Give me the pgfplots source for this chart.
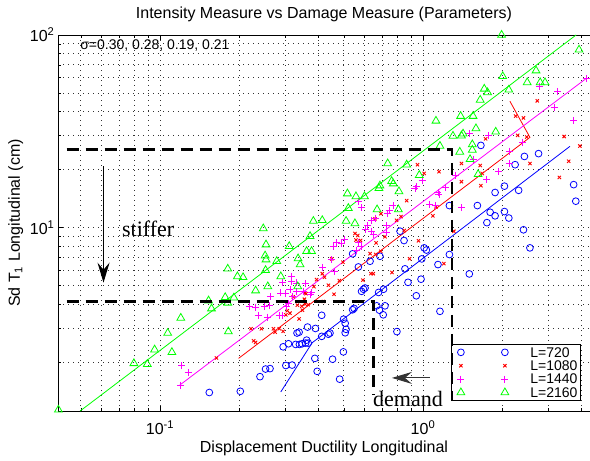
\documentclass[border=0pt]{standalone}
\usepackage{pgfplots}
\pgfplotsset{compat=1.18}
\usepackage{pgfplotstable}
\usepackage{fontspec}
\setmainfont{Liberation Sans}
\newfontfamily\serifface{Liberation Serif}
\usetikzlibrary{arrows.meta}

\definecolor{mblue}{RGB}{0,0,255}
\definecolor{mred}{RGB}{255,0,0}
\definecolor{mmag}{RGB}{255,0,255}
\definecolor{mgreen}{RGB}{0,255,0}

% legend sample: the marker drawn twice, no connecting line
\pgfplotsset{
  twomarks/.style={legend image code/.code={%
    \path (-7pt,0pt) (68pt,0pt);
    \draw[##1,only marks] plot coordinates {(0pt,0pt) (44pt,0pt)};}},
}

% L = 720
\pgfplotstableread{
x y
0.154 1.39
0.202 1.41
0.240 1.68
0.252 1.84
0.262 1.85
0.301 1.92
0.318 1.93
0.294 2.40
0.308 2.49
0.328 2.47
0.339 2.47
0.347 2.49
0.358 2.51
0.366 2.51
0.361 2.60
0.332 2.83
0.338 2.86
0.364 3.04
0.390 2.99
0.412 3.50
0.412 2.72
0.388 2.09
0.396 1.79
0.443 2.83
0.437 2.79
0.453 2.07
0.482 1.63
0.498 2.26
0.499 3.34
0.506 3.18
0.510 2.96
0.506 2.84
0.540 3.74
0.547 3.80
0.584 4.66
0.594 4.78
0.602 4.85
0.540 7.30
0.568 6.24
0.629 6.68
0.686 7.09
0.667 3.92
0.683 3.72
0.706 3.52
0.717 3.92
0.678 4.60
0.708 4.78
0.796 2.88
0.818 9.57
0.847 8.56
0.854 6.10
0.877 5.19
0.943 4.42
0.983 5.39
0.989 6.87
1.01 7.84
1.03 7.64
1.14 6.42
1.16 3.67
1.26 7.24
1.26 13.0
1.50 5.74
1.61 13.0
1.66 26.7
1.75 10.6
1.80 12.0
1.88 11.5
1.88 15.2
2.04 16.4
2.04 12.1
2.12 11.2
2.24 21.2
2.31 15.6
2.43 23.4
2.75 24.2
2.41 9.73
2.55 7.84
3.74 16.7
3.81 13.7
}\dataA

% L = 1080
\pgfplotstableread{
x y
0.164 2.10
0.222 2.98
0.243 2.98
0.270 2.98
0.284 2.98
0.294 2.89
0.274 2.86
0.227 2.58
0.231 2.53
0.305 3.70
0.301 3.52
0.312 3.59
0.338 3.35
0.333 3.95
0.346 3.90
0.356 4.00
0.354 4.24
0.366 3.97
0.348 3.72
0.321 4.37
0.359 4.53
0.418 4.13
0.459 4.50
0.356 4.57
0.385 4.93
0.394 5.36
0.414 5.76
0.422 5.52
0.437 5.01
0.481 5.30
0.450 6.87
0.496 6.60
0.551 9.31
0.565 9.09
0.579 8.56
0.556 8.61
0.591 5.33
0.634 5.76
0.647 5.76
0.629 7.32
0.661 7.24
0.691 7.53
0.663 8.32
0.717 8.95
0.762 5.84
0.692 11.8
0.657 11.1
0.794 10.9
0.825 11.4
0.867 13.8
0.889 6.88
0.849 9.65
0.961 8.53
1.09 11.5
1.12 12.8
0.953 21.2
1.01 19.1
1.15 19.5
1.31 9.56
1.20 6.49
1.40 21.5
1.40 17.3
1.65 21.0
1.68 19.1
1.66 16.5
1.73 28.9
2.25 37.9
2.41 37.1
2.72 45.5
2.29 30.1
2.48 29.5
2.55 21.5
3.44 29.7
3.58 22.1
3.30 18.2
3.95 26.5
}\dataB

% L = 1440
\pgfplotstableread{
x y
0.120 1.52
0.121 1.91
0.128 1.76
0.219 3.90
0.231 3.86
0.249 3.88
0.260 3.92
0.236 3.50
0.257 3.42
0.284 3.48
0.291 3.48
0.303 3.91
0.308 4.02
0.264 4.39
0.288 4.57
0.299 4.53
0.320 4.39
0.312 4.75
0.293 5.21
0.315 5.57
0.329 5.15
0.316 5.23
0.351 4.63
0.372 4.50
0.356 5.11
0.377 4.60
0.331 4.64
0.416 6.17
0.450 6.81
0.460 5.92
0.456 7.99
0.470 8.32
0.491 8.25
0.501 8.66
0.560 7.62
0.581 7.99
0.568 8.35
0.638 9.56
0.647 9.25
0.728 9.42
0.602 9.76
0.614 10.2
0.585 12.7
0.568 13.7
0.638 10.9
0.657 11.2
0.728 10.2
0.732 11.8
0.745 12.2
0.769 13.0
0.932 15.9
0.946 16.3
0.997 17.5
1.06 13.2
1.12 13.0
1.14 15.2
1.15 14.8
1.22 16.1
1.33 18.7
1.40 12.7
1.55 22.6
1.50 30.8
1.75 17.8
1.78 29.9
1.94 19.6
2.13 21.4
2.14 24.9
2.39 27.8
2.77 54.3
3.25 50.7
3.15 42.2
3.73 36.0
4.19 59.5
}\dataC

% L = 2160
\pgfplotstableread{
x y
0.0411 1.13
0.0796 1.97
0.0895 1.95
0.0954 2.32
0.111 2.25
0.107 2.83
0.120 3.39
0.153 4.17
0.157 3.79
0.177 4.34
0.181 4.06
0.191 4.32
0.182 2.88
0.181 6.10
0.197 5.57
0.207 5.51
0.231 4.70
0.247 9.88
0.253 8.15
0.251 7.14
0.253 6.81
0.252 6.00
0.278 6.68
0.257 4.94
0.288 5.57
0.310 7.99
0.335 6.90
0.334 4.94
0.372 9.01
0.361 7.53
0.377 7.53
0.341 6.42
0.383 10.8
0.414 10.9
0.510 10.8
0.551 10.5
0.516 15.0
0.556 14.5
0.599 14.5
0.520 12.6
0.669 12.4
0.686 16.5
0.680 16.0
0.760 17.4
0.771 16.9
0.810 15.4
0.806 12.4
0.734 21.5
0.867 21.2
0.968 18.7
1.12 35.8
1.16 26.5
1.30 29.9
1.40 30.0
1.42 30.7
1.38 24.7
1.39 37.9
1.55 37.9
1.59 32.7
1.54 27.0
1.54 25.3
1.51 22.6
1.62 18.9
1.89 31.4
1.65 46.0
1.71 52.5
1.76 50.3
2.12 51.9
2.01 61.0
1.99 100
2.49 56.7
2.69 65.3
2.79 56.7
2.91 56.7
3.92 83.8
}\dataD

\begin{document}
\begin{tikzpicture}
\begin{axis}[
  set layers,
  width=532pt, height=376pt, scale only axis,
  xmode=log, ymode=log,
  xmin=0.04095, xmax=4.315, ymin=1.114, ymax=100,
  axis y line*=left,
  clip=false,
  xtick={0.1,1},
  xticklabels={10\textsuperscript{-1},10\textsuperscript{0}},
  ytick={10,100},
  yticklabels={10\textsuperscript{1},10\textsuperscript{2}},
  minor xtick={0.05,0.06,0.07,0.08,0.09,0.2,0.3,0.4,0.5,0.6,0.7,0.8,0.9,2,3,4},
  minor ytick={2,3,4,5,6,7,8,9,20,30,40,50,60,70,80,90},
  grid=both,
  major grid style={black!80, line width=0.7pt, dash pattern=on 0.7pt off 4.3pt},
  minor grid style={black!80, line width=0.7pt, dash pattern=on 0.7pt off 4.3pt},
  tick style={black, line width=0.6pt},
  major tick length=5pt, minor tick length=3pt,
  axis line style={line width=0.9pt},
  tick label style={font=\fontsize{16}{19}\selectfont},
  xticklabel style={yshift=-6pt},
  label style={font=\fontsize{16}{19}\selectfont},
  xlabel style={yshift=1pt},
  title style={font=\fontsize{16}{19}\selectfont, yshift=4pt},
  title={Intensity Measure vs Damage Measure (Parameters)},
  xlabel={Displacement Ductility Longitudinal},
  ylabel={Sd T\textsubscript{1} Longitudinal (cm)},
  legend style={at={(0.983,0.027)}, anchor=south east,
    draw=black, line width=1pt, fill=white,
    font=\fontsize{14}{12}\selectfont,
    inner xsep=2pt, inner ysep=2pt, row sep=1.6pt,
    nodes={inner sep=1pt, text depth=0pt}},
  legend cell align=left,
]
\addplot[only marks, mark=o, mark size=3.4pt, mblue, line width=0.8pt, twomarks]
  table {\dataA};
\addlegendentry{L=720}
\addplot[only marks, mark=x, mark size=2.3pt, mred, line width=0.9pt, twomarks]
  table {\dataB};
\addlegendentry{L=1080}
\addplot[only marks, mark=+, mark size=3.5pt, mmag, line width=0.9pt, twomarks,
  mark options={draw=mmag}]
  table {\dataC};
\addlegendentry{L=1440}
\addplot[only marks, mark=triangle, mark size=4.5pt, mgreen, line width=0.8pt, twomarks]
  table {\dataD};
\addlegendentry{L=2160}

% fitted trends
\addplot[forget plot, mblue, line width=0.8pt] coordinates {(0.288,1.40) (0.379,2.52) (3.62,26.4)};
\addplot[forget plot, mred, line width=0.8pt] coordinates {(0.199,2.09) (2.55,29.4) (2.14,45.3)};
\addplot[forget plot, mmag, line width=0.8pt] coordinates {(0.119,1.52) (4.19,59.7)};
\addplot[forget plot, mgreen, line width=0.8pt] coordinates {(0.0497,1.114) (3.82,100)};

% capacity / demand levels
\addplot[forget plot, on layer=axis foreground, black, line width=2.8pt, dash pattern=on 12pt off 7pt]
  coordinates {(0.0442,25.5) (1.29,25.5) (1.29,1.27)};
\addplot[forget plot, on layer=axis foreground, black, line width=2.8pt, dash pattern=on 12pt off 7pt]
  coordinates {(0.0442,4.12) (0.647,4.12) (0.647,1.35)};

\draw[-{Stealth[length=20pt,width=12pt,inset=7pt]}, line width=1.1pt, black]
  (axis cs:0.0610,20.8) -- (axis cs:0.0610,5.17);
\node[anchor=base west, inner sep=0pt, font=\serifface\fontsize{22}{26}\selectfont]
  at (axis cs:0.0717,8.98) {stiffer};
\draw[-{Stealth[length=20pt,width=12pt,inset=7pt]}, line width=1.1pt, black!80]
  (axis cs:1.063,1.655) -- (axis cs:0.762,1.655);
\node[anchor=base west, inner sep=0pt, font=\serifface\fontsize{22}{26}\selectfont]
  at (axis cs:0.6455,1.169) {demand};
\node[anchor=base west, inner sep=0pt, font=\fontsize{14}{16}\selectfont]
  at (axis cs:0.0497,83.6) {σ=0.30, 0.28, 0.19, 0.21};
\end{axis}
\pgfresetboundingbox
\useasboundingbox ([xshift=-58pt,yshift=-49pt]current axis.south west)
  rectangle ([yshift=35pt]current axis.north east);
\end{tikzpicture}
\end{document}
